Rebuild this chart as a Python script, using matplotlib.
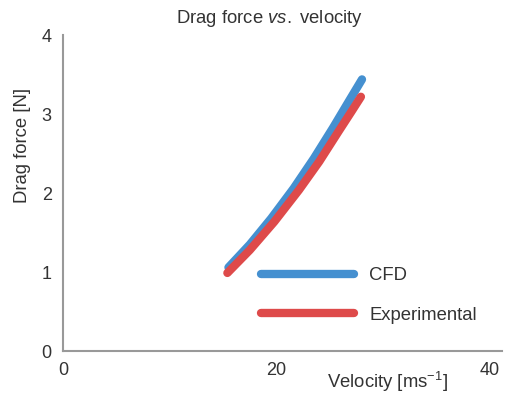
import matplotlib
matplotlib.use("Agg")
import matplotlib.pyplot as plt

plt.rcParams['font.family'] = ['Liberation Sans', 'DejaVu Sans']
plt.rcParams['mathtext.fontset'] = 'custom'
plt.rcParams['mathtext.rm'] = 'Liberation Sans'
plt.rcParams['mathtext.it'] = 'Liberation Sans:italic'

# Data
cfd_v = [15.5, 17.5, 19.5, 21.6, 23.5, 25.3, 26.8, 28.0]
cfd_f = [1.06, 1.35, 1.68, 2.06, 2.44, 2.83, 3.17, 3.44]
exp_v = [15.4, 17.5, 19.8, 22.1, 24.0, 25.8, 27.0, 27.9]
exp_f = [0.99, 1.28, 1.64, 2.04, 2.40, 2.78, 3.03, 3.22]

xticks = [0, 20, 40]
yticks = [0, 1, 2, 3, 4]

blue = "#4590d0"
red = "#de4a4a"
txt = '#333333'
fs = 13.3

fig = plt.figure(figsize=(5.07, 3.95), dpi=100)
ax = fig.add_axes([0.124, 0.111, 0.866, 0.800])

ax.plot(cfd_v, cfd_f, color=blue, lw=6, solid_capstyle='round',
        solid_joinstyle='round', label='CFD')
ax.plot(exp_v, exp_f, color=red, lw=6, solid_capstyle='round',
        solid_joinstyle='round', label='Experimental')

ax.set_xlim(0, 41.1)
ax.set_ylim(0, 4.0)
ax.set_xticks(xticks)
ax.set_yticks(yticks)
ax.tick_params(length=0, labelsize=13, colors=txt)
ax.tick_params(axis='y', pad=8)
ax.tick_params(axis='x', pad=8)
for s in ['top', 'right']:
    ax.spines[s].set_visible(False)
for s in ['left', 'bottom']:
    ax.spines[s].set_color('#999999')
    ax.spines[s].set_linewidth(1.5)

ax.set_title('Drag force $\\mathit{vs.}$ velocity', fontsize=fs, color=txt, pad=9)
ax.title.set_x(0.47)
ax.set_xlabel('Velocity [ms$^{-1}$]', fontsize=fs, color=txt)
ax.xaxis.set_label_coords(0.74, -0.06)
ax.set_ylabel('Drag force [N]', fontsize=fs, color=txt)
ax.yaxis.set_label_coords(-0.072, 0.65)

leg = ax.legend(loc='upper left', bbox_to_anchor=(0.452, 0.265), frameon=False,
                borderpad=0, borderaxespad=0, handlelength=5.0, handletextpad=0.85,
                labelspacing=1.2, fontsize=fs)
for t in leg.get_texts():
    t.set_color(txt)
for l in leg.get_lines():
    l.set_solid_capstyle('round')
    l.set_linewidth(6)

fig.savefig('out.png', dpi=100)
